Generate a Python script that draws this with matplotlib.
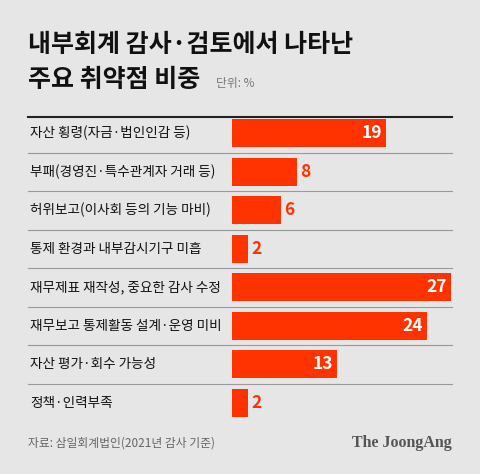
import matplotlib.pyplot as plt
from matplotlib.lines import Line2D
import matplotlib.transforms as mtransforms

plt.rcParams['font.family'] = ['Noto Sans CJK KR', 'DejaVu Sans']

categories = [
    "자산 횡령(자금·법인인감 등)",
    "부패(경영진·특수관계자 거래 등)",
    "허위보고(이사회 등의 기능 마비)",
    "통제 환경과 내부감시기구 미흡",
    "재무제표 재작성, 중요한 감사 수정",
    "재무보고 통제활동 설계·운영 미비",
    "자산 평가·회수 가능성",
    "정책·인력부족",
]
values = [19, 8, 6, 2, 27, 24, 13, 2]

BG = "#e6e6e6"
RED = "#ff3300"
W, H = 480, 474

fig = plt.figure(figsize=(4.8, 4.74), dpi=100, facecolor=BG)

# bar region in pixels (top-origin)
x0, x1, y0, y1 = 232, 451, 114, 422
ax = fig.add_axes([x0 / W, 1 - y1 / H, (x1 - x0) / W, (y1 - y0) / H])
ax.set_facecolor("none")
ax.set_xlim(0, 27)
ax.set_ylim(len(values) - 0.5, -0.5)
ax.axis("off")

ys = range(len(values))
ax.barh(ys, values, height=0.74, color=RED)

for y, v in zip(ys, values):
    if v >= 10:
        ax.text(v - 0.5, y, str(v), ha="right", va="center", color="white",
                fontsize=12.5, fontweight="bold")
    else:
        ax.text(v + 0.4, y, str(v), ha="left", va="center", color=RED,
                fontsize=12.5, fontweight="bold")

# category labels and separators (x in figure, y in data)
trans = mtransforms.blended_transform_factory(fig.transFigure, ax.transData)
for y, cat in zip(ys, categories):
    t = fig.text(30 / W, 0, cat, transform=trans, fontsize=9.8, va="center",
                 color="#111111", fontweight="medium")
    t.set_y(y)
for y in [i + 0.5 for i in range(len(values) - 1)]:
    fig.add_artist(Line2D([28 / W, 452 / W], [y, y], transform=trans,
                          color="#9a9a9a", lw=0.8))

# header
fig.add_artist(Line2D([28 / W, 452 / W], [1 - 117 / H] * 2, color="#222222", lw=1.5))
fig.text(28 / W, 1 - 45 / H, "내부회계 감사·검토에서 나타난", fontsize=18,
         fontweight="bold", va="center", color="#111111")
fig.text(28 / W, 1 - 80 / H, "주요 취약점 비중", fontsize=18,
         fontweight="bold", va="center", color="#111111")
fig.text(216 / W, 1 - 83 / H, "단위: %", fontsize=8.5, va="center", color="#777777")

# footer
fig.text(28 / W, 1 - 443 / H, "자료: 삼일회계법인(2021년 감사 기준)", fontsize=8.5,
         va="center", color="#666666")
fig.text(452 / W, 1 - 443 / H, "The JoongAng", fontsize=11.5, fontweight="bold",
         family="Liberation Serif", ha="right", va="center", color="#555555")

fig.savefig("out.png", dpi=100, facecolor=BG)
